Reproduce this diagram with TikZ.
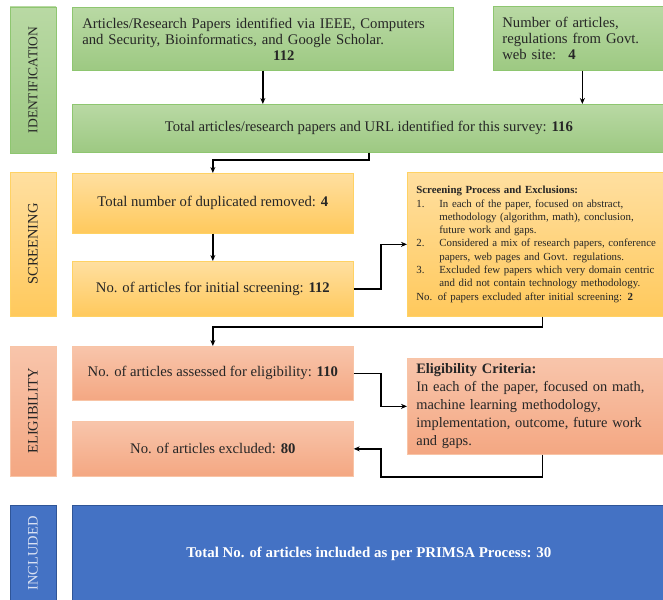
\documentclass[tikz,border=0pt]{standalone}
\usepackage{fontspec}
\setmainfont{Liberation Serif}
\usetikzlibrary{arrows.meta}

\definecolor{grntop}{RGB}{185,217,164}
\definecolor{grnbot}{RGB}{157,201,130}
\definecolor{grnline}{RGB}{142,198,112}
\definecolor{orgtop}{RGB}{255,223,160}
\definecolor{orgbot}{RGB}{255,201,92}
\definecolor{orgline}{RGB}{255,210,100}
\definecolor{saltop}{RGB}{248,197,171}
\definecolor{salbot}{RGB}{244,167,130}
\definecolor{salline}{RGB}{248,196,166}
\definecolor{incblue}{RGB}{68,114,196}
\definecolor{incline}{RGB}{47,85,151}
\definecolor{inctext}{RGB}{217,225,242}
\definecolor{txtgray}{RGB}{38,38,38}

\begin{document}
\begin{tikzpicture}[>=Stealth, x=1pt, y=-1pt,
  blk/.style={draw, line width=0.7pt, inner sep=0pt, anchor=north west, text=txtgray,
              font=\fontsize{14.7}{16}\selectfont},
  grn/.style={blk, draw=grnline, top color=grntop, bottom color=grnbot},
  org/.style={blk, draw=orgline, top color=orgtop, bottom color=orgbot},
  sal/.style={blk, draw=salline, top color=saltop, bottom color=salbot},
  inc/.style={blk, draw=incline, fill=incblue, text=white},
  bar/.style={anchor=center, minimum width=46pt, font=\fontsize{14.5}{16}\selectfont},
  arr/.style={->, line width=1.6pt, >={Stealth[length=6pt,width=5pt]}},
]

  \useasboundingbox (0,0) rectangle (663,599);

  \node (idbar)   [grn, bar, minimum height=146pt, font=\fontsize{13.5}{16}\selectfont] at (33,80)
    {\rotatebox{90}{IDENTIFICATION}};
  \node (scrbar)  [org, bar, minimum height=144pt] at (33,244) {\rotatebox{90}{SCREENING}};
  \node (eligbar) [sal, bar, minimum height=130pt] at (33,411) {\rotatebox{90}{ELIGIBILITY}};
  \node (incbar)  [inc, bar, minimum height=97pt, text=inctext] at (33,553.5) {\rotatebox{90}{INCLUDED}};

  \node (artA) [grn, minimum width=381pt, minimum height=63pt, text width=361pt,
                inner xsep=10pt, align=left] at (72,7)
    {Articles/Research Papers identified via IEEE, Computers\\
     and Security, Bioinformatics, and Google Scholar.\\
     \makebox[361pt]{\hspace{42pt}\textbf{112}}};
  \node (govB) [grn, minimum width=172pt, minimum height=64pt, text width=160pt,
                inner xsep=9pt, align=left] at (493,6)
    {Number of articles,\\ regulations from Govt.\\ web site:~ \textbf{4}};
  \node (total) [grn, minimum width=593pt, minimum height=48pt] at (72,104)
    {Total articles/research papers and URL identified for this survey: \textbf{116}};

  \node (dup) [org, minimum width=281pt, minimum height=60pt] at (72,173)
    {Total number of duplicated removed: \textbf{4}};
  \node (initial) [org, minimum width=281pt, minimum height=55pt] at (72,261)
    {No. of articles for initial screening: \textbf{112}};
  \node (scrproc) [org, minimum width=258pt, minimum height=144pt, text width=252pt,
                   inner xsep=9pt, align=left, font=\fontsize{10.85}{13.3}\selectfont] at (407,172)
    {\textbf{Screening Process and Exclusions:}\\
     \makebox[23pt][l]{1.}In each of the paper, focused on abstract,\\
     \hspace*{23pt}methodology (algorithm, math), conclusion,\\
     \hspace*{23pt}future work and gaps.\\
     \makebox[23pt][l]{2.}Considered a mix of research papers, conference\\
     \hspace*{23pt}papers, web pages and Govt. regulations.\\
     \makebox[23pt][l]{3.}Excluded few papers which very domain centric\\
     \hspace*{23pt}and did not contain technology methodology.\\
     No. of papers excluded after initial screening: \textbf{2}};

  \node (assess) [sal, minimum width=281pt, minimum height=54pt] at (72,346)
    {No. of articles assessed for eligibility: \textbf{110}};
  \node (excl) [sal, minimum width=281pt, minimum height=55pt] at (72,421)
    {No. of articles excluded: \textbf{80}};
  \node (criteria) [sal, minimum width=258pt, minimum height=96pt, text width=252pt,
                    inner xsep=9pt, align=left, font=\fontsize{14.4}{18}\selectfont] at (407,358)
    {\textbf{Eligibility Criteria:}\\
     In each of the paper, focused on math,\\
     machine learning methodology,\\
     implementation, outcome, future work\\
     and gaps.};

  \node (included) [inc, minimum width=593pt, minimum height=97pt, font=\bfseries\fontsize{14.9}{16}\selectfont]
    at (72,505) {Total No. of articles included as per PRIMSA Process: 30};

  \draw[arr] (artA.south) -- (artA.south |- total.north);
  \draw[arr] (govB.south) -- (govB.south |- total.north);
  \draw[arr] (total.south) -- ++(0,7) -| (dup.north);
  \draw[arr] (dup.south) -- (initial.north);
  \draw[arr] (initial.east) -- ++(27,0) |- (scrproc.west);
  \draw[arr] (scrproc.south) -- ++(0,10) -| (assess.north);
  \draw[arr] (assess.east) -- ++(27,0) |- (criteria.west);
  \draw[arr] (criteria.south) |- ([xshift=27pt]excl.south east) |- (excl.east);

\end{tikzpicture}
\end{document}
